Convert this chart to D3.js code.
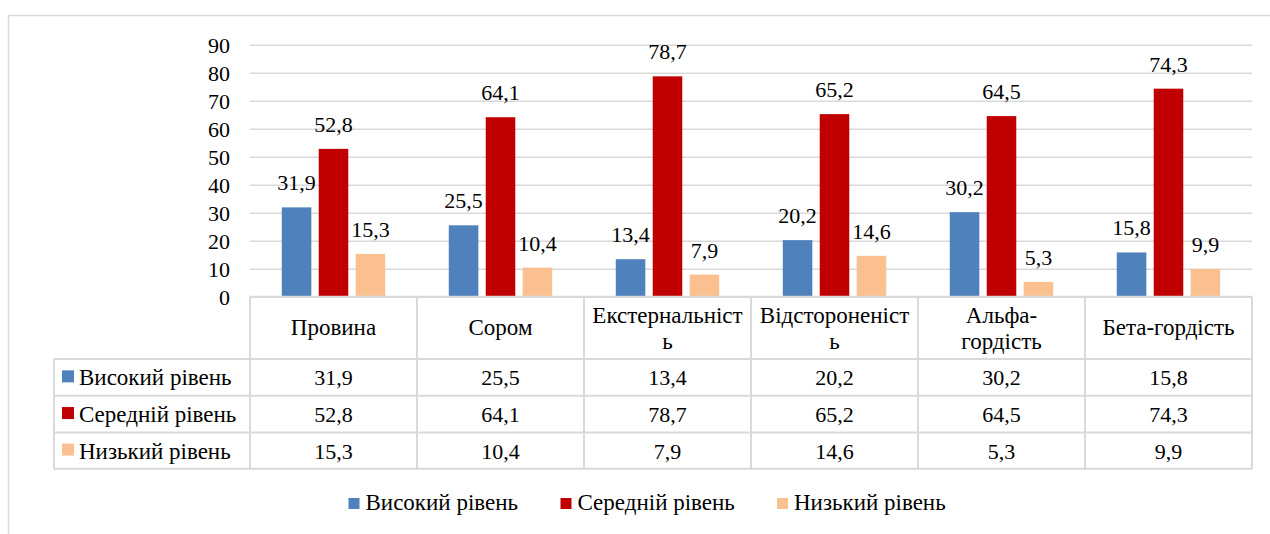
<!DOCTYPE html>
<html>
<head>
<meta charset="utf-8">
<script src="https://cdn.jsdelivr.net/npm/d3@7"></script>
<style>
  body { margin: 0; background: #fff; }
</style>
</head>
<body>
<svg id="chart" width="1270" height="534"></svg>
<script>
// data
const categories = ['Провина', 'Сором', 'Екстернальність', 'Відстороненість', 'Альфа-гордість', 'Бета-гордість'];
// how the header cells break the names (as in the original)
const categoryLines = [['Провина'], ['Сором'], ['Екстернальніст', 'ь'], ['Відстороненіст', 'ь'], ['Альфа-', 'гордість'], ['Бета-гордість']];
const seriesNames = ['Високий рівень', 'Середній рівень', 'Низький рівень'];
const high = [31.9, 25.5, 13.4, 20.2, 30.2, 15.8];
const mid = [52.8, 64.1, 78.7, 65.2, 64.5, 74.3];
const low = [15.3, 10.4, 7.9, 14.6, 5.3, 9.9];
const yTicks = [0, 10, 20, 30, 40, 50, 60, 70, 80, 90];

const seriesValues = [high, mid, low];
const colors = ['#4F81BD', '#C00000', '#FAC090'];
const fmt = v => String(v).replace('.', ',');
const numSize = 22;    // numbers
const wordSize = 23;   // words

const svg = d3.select('#chart')
  .style('font-family', "'Liberation Serif', 'Times New Roman', Tinos, 'DejaVu Serif', 'Noto Serif', FreeSerif, serif");
const plotLeft = 250, plotRight = 1252, plotTop = 44.7, plotBottom = 296.7;
const rowH = [62.3, 36.7, 36.7, 36.3];  // header row, then series rows
const legendLeft = 54;

//outer frame (clipped by window like in the reference)
svg.append('rect')
  .attr('x', 8.5).attr('y', 15.5)
  .attr('width', 1400).attr('height', 700)
  .attr('fill', 'none').attr('stroke', '#D9D9D9').attr('stroke-width', 1.5);

const x0 = d3.scaleBand().domain(categories).range([plotLeft, plotRight]);
const x1 = d3.scaleBand().domain(seriesNames).range([0, x0.bandwidth()])
  .paddingInner(0.2).paddingOuter(0.86);
const y = d3.scaleLinear().domain([0, 90]).range([plotBottom, plotTop]);

// gridlines
svg.append('g')
  .attr('transform', 'translate(' + plotLeft + ',0)')
  .call(d3.axisLeft(y).tickValues(yTicks).tickSize(-(plotRight - plotLeft)).tickFormat(''))
  .call(g => g.select('.domain').remove())
  .call(g => g.selectAll('.tick line').attr('stroke', '#D9D9D9').attr('stroke-width', 1.5));

// y labels
svg.append('g').selectAll('text')
  .data(yTicks)
  .join('text')
  .attr('x', 230)
  .attr('y', d => y(d) + 8)
  .attr('text-anchor', 'end')
  .style('font-size', numSize + 'px')
  .text(d => d);

// bars
const groups = svg.append('g').selectAll('g')
  .data(categories)
  .join('g')
  .attr('transform', d => 'translate(' + x0(d) + ',0)');

groups.selectAll('rect')
  .data((d, i) => seriesNames.map((s, j) => ({ s, j, v: seriesValues[j][i] })))
  .join('rect')
  .attr('x', d => x1(d.s))
  .attr('y', d => y(d.v))
  .attr('width', x1.bandwidth())
  .attr('height', d => y(0) - y(d.v))
  .attr('fill', d => colors[d.j]);

groups.selectAll('text')
  .data((d, i) => seriesNames.map((s, j) => ({ s, j, v: seriesValues[j][i] })))
  .join('text')
  .attr('x', d => x1(d.s) + x1.bandwidth() / 2)
  .attr('y', d => y(d.v) - 17)
  .attr('text-anchor', 'middle')
  .style('font-size', numSize + 'px')
  .text(d => fmt(d.v));

// data table
const rowTops = [plotBottom];
rowH.forEach((h, i) => rowTops.push(rowTops[i] + h));
const grid = svg.append('g').attr('stroke', '#D9D9D9').attr('stroke-width', 2);
// horizontal lines
rowTops.forEach((yy, i) => {
  grid.append('line')
    .attr('x1', i === 0 ? plotLeft : legendLeft).attr('x2', plotRight)
    .attr('y1', yy).attr('y2', yy);
});
// vertical lines
x0.domain().map(c => x0(c)).concat([plotRight]).forEach(xx => {
  grid.append('line')
    .attr('x1', xx).attr('x2', xx)
    .attr('y1', plotBottom).attr('y2', rowTops[rowTops.length - 1]);
});
grid.append('line')
  .attr('x1', legendLeft).attr('x2', legendLeft)
  .attr('y1', rowTops[1]).attr('y2', rowTops[rowTops.length - 1]);

// header cells
categoryLines.forEach((lines, i) => {
  const cx = x0(categories[i]) + x0.bandwidth() / 2;
  const t = svg.append('text')
    .attr('text-anchor', 'middle')
    .style('font-size', wordSize + 'px');
  lines.forEach((ln, k) => {
    const yy = lines.length === 1 ? rowTops[0] + 38 : rowTops[0] + 26 + k * 26;
    t.append('tspan').attr('x', cx).attr('y', yy).text(ln);
  });
});

// series rows
seriesNames.forEach((s, j) => {
  const yy = rowTops[j + 1];
  const h = rowH[j + 1];
  svg.append('rect')
    .attr('x', 62).attr('y', yy + h / 2 - 7)
    .attr('width', 12).attr('height', 12)
    .attr('fill', colors[j]);
  svg.append('text')
    .attr('x', 79).attr('y', yy + h / 2 + 8)
    .style('font-size', wordSize + 'px')
    .text(s);
  svg.append('g').selectAll('text')
    .data(seriesValues[j])
    .join('text')
    .attr('x', (d, i) => x0(categories[i]) + x0.bandwidth() / 2)
    .attr('y', yy + h / 2 + 8)
    .attr('text-anchor', 'middle')
    .style('font-size', numSize + 'px')
    .text(d => fmt(d));
});

// bottom legend
const legendX = [348.5, 560.5, 777];
const leg = svg.append('g').selectAll('g')
  .data(seriesNames)
  .join('g')
  .attr('transform', (d, i) => 'translate(' + legendX[i] + ',498)');
leg.append('rect')
  .attr('width', 11).attr('height', 11)
  .attr('fill', (d, i) => colors[i]);
leg.append('text')
  .attr('x', 17).attr('y', 12)
  .style('font-size', wordSize + 'px')
  .text(d => d);
</script>
</body>
</html>
